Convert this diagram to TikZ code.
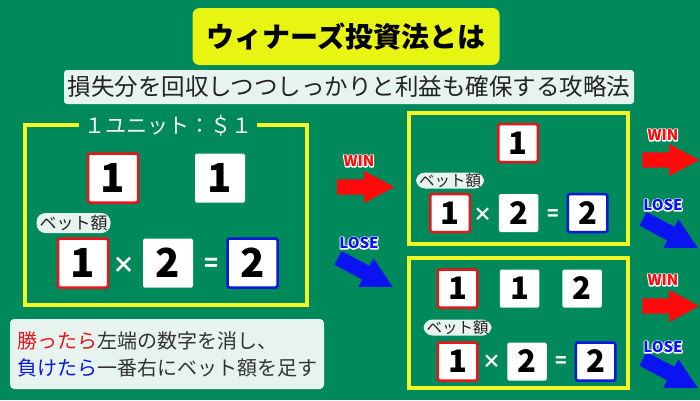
\documentclass[tikz,border=0pt]{standalone}
\usepackage{fontspec}
\setmainfont{Noto Sans CJK JP}
\usetikzlibrary{calc,positioning,shapes.arrows}
\definecolor{Board}{HTML}{00895A}
\definecolor{Lemon}{HTML}{E8F412}
\definecolor{Frame}{HTML}{F3F724}
\definecolor{Pale}{HTML}{E6F3EF}
\definecolor{Ink}{HTML}{222222}
\definecolor{NoteInk}{HTML}{333333}
\definecolor{HitRed}{HTML}{E8151B}
\definecolor{AddBlue}{HTML}{0A18DC}
\definecolor{WinRed}{HTML}{FF0A0A}
\definecolor{LoseBlue}{HTML}{0A14F0}
\tikzset{
  panel/.style={draw=Frame, line width=3.5pt},
  numbox/.style={
    fill=white, rounded corners=1.5pt, inner sep=0pt,
    minimum width=50pt, minimum height=49pt,
    font=\fontsize{40}{40}\selectfont\bfseries
  },
  hitbox/.style={numbox, draw=HitRed, line width=2.5pt},
  addbox/.style={numbox, draw=AddBlue, line width=2.5pt},
  small/.style={minimum width=39.5pt, minimum height=38pt,
    font=\fontsize{31}{31}\selectfont\bfseries},
  op/.style={text=white, inner sep=0pt, font=\fontsize{23}{23}\selectfont\bfseries},
  smallop/.style={op, font=\fontsize{19}{19}\selectfont\bfseries},
  betpill/.style={
    fill=Pale, rounded corners=9pt, inner xsep=3pt, inner ysep=0pt,
    minimum height=20pt, text=Ink, font=\fontsize{17}{17}\selectfont
  },
  smallpill/.style={betpill, minimum height=16pt, font=\fontsize{15.5}{15.5}\selectfont},
  winarrow/.style={
    single arrow, fill=WinRed, inner xsep=0pt, inner ysep=7.5pt,
    single arrow head extend=8.5pt, single arrow tip angle=56,
    minimum height=57pt
  },
  losearrow/.style={winarrow, fill=LoseBlue, rotate=-28, minimum height=62pt},
  tag/.style={inner sep=0pt, font=\fontsize{15}{15}\selectfont\bfseries}
}
% white stroked copy behind the coloured word
\newcommand{\rimmed}[2]{\rlap{\special{pdf:code 1 Tr 2.2 w 1 j}\textcolor{white}{#2}\special{pdf:code 0 Tr}}\textcolor{#1}{#2}}
\newcommand{\wintag}{\rimmed{WinRed}{WIN}}
\newcommand{\losetag}{\rimmed{LoseBlue}{LOSE}}

\begin{document}
\begin{tikzpicture}[x=1pt,y=-1pt]
  \fill[Board] (0,0) rectangle (700,400);

  % heading
  \node[fill=Lemon, rounded corners=7pt, minimum width=307pt, minimum height=57pt,
    text=black, font=\fontsize{28}{28}\selectfont\bfseries] (title) at (346,36.5) {ウィナーズ投資法とは};
  \node[fill=Pale, rounded corners=3pt, minimum width=570pt, minimum height=34pt,
    text=Ink, font=\fontsize{23.5}{23.5}\selectfont] (sub) at (349,87) {損失分を回収しつつしっかりと利益も確保する攻略法};

  % start: one unit
  \node[panel, minimum width=282pt, minimum height=180pt] (unit) at (166,215) {};
  \node[fill=Board, text=white, inner xsep=5pt, font=\fontsize{21}{21}\selectfont] (unitlbl) at (168,126) {１ユニット：＄１};
  \node[hitbox] (l1) at (113,178) {1};
  \node[numbox] (l2) at (220,178) {1};
  \node[betpill] (lbet) at (73.5,223) {ベット額};
  \node[hitbox] (lbase) at (83,263) {1};
  \node[op] (lmul) at (124,265) {×};
  \node[numbox] (lstep) at (168,263) {2};
  \node[op] (leq) at (211,265) {=};
  \node[addbox] (lnext) at (252.5,263) {2};

  % after a win
  \node[panel, minimum width=219pt, minimum height=131pt] (wonpanel) at (518.5,178.5) {};
  \node[hitbox, small] (w1) at (518,143) {1};
  \node[smallpill] (wbet) at (450,180.5) {ベット額};
  \node[hitbox, small] (wbase) at (450,213) {1};
  \node[smallop] (wmul) at (483,215) {×};
  \node[numbox, small] (wstep) at (518.5,213) {2};
  \node[smallop] (weq) at (553,215) {=};
  \node[addbox, small] (wnext) at (587.5,213) {2};

  % after a loss
  \node[panel, minimum width=219pt, minimum height=130pt] (lostpanel) at (518.5,323) {};
  \node[hitbox, small] (k1) at (457.5,288.5) {1};
  \node[numbox, small] (k2) at (519.5,288.5) {1};
  \node[numbox, small] (k3) at (582,288.5) {2};
  \node[smallpill] (kbet) at (457.5,327.5) {ベット額};
  \node[hitbox, small] (kbase) at (457.5,361.5) {1};
  \node[smallop] (kmul) at (492,362) {×};
  \node[numbox, small] (kstep) at (527,361.5) {2};
  \node[smallop] (keq) at (561,362) {=};
  \node[addbox, small] (knext) at (595.5,361.5) {2};

  % outcome arrows
  \node[winarrow] (win1) at (358.5,187) {};
  \node[tag] (win1t) at (359,161) {\wintag};
  \node[losearrow] (lose1) at (359,269) {};
  \node[tag] (lose1t) at (359,243) {\losetag};
  \node[winarrow] (win2) at (663.5,160) {};
  \node[tag] (win2t) at (663,135) {\wintag};
  \node[losearrow] (lose2) at (664,230) {};
  \node[tag] (lose2t) at (663,205) {\losetag};
  \node[winarrow] (win3) at (663.5,306) {};
  \node[tag] (win3t) at (663,280) {\wintag};
  \node[losearrow] (lose3) at (664,370) {};
  \node[tag] (lose3t) at (663,347) {\losetag};

  % rule
  \node[fill=Pale, rounded corners=4pt, minimum width=314pt, minimum height=70pt,
    align=left, text=NoteInk, font=\fontsize{20}{27}\selectfont] (rule) at (167,354)
    {\textcolor{HitRed}{勝ったら}左端の数字を消し、\\\textcolor{AddBlue}{負けたら}一番右にベット額を足す};
\end{tikzpicture}
\end{document}
